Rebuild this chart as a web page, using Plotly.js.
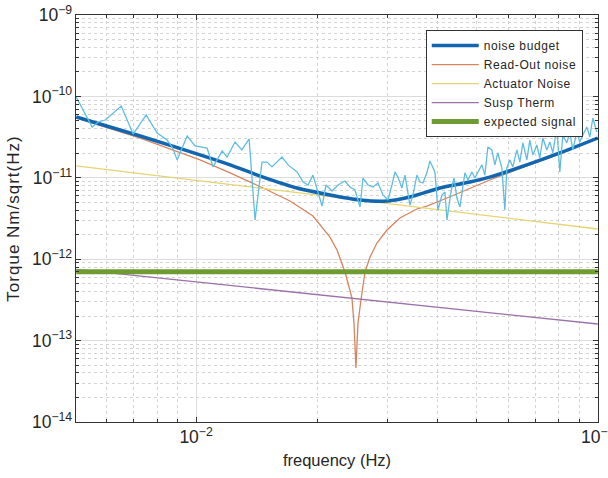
<!DOCTYPE html>
<html>
<head>
<meta charset="utf-8">
<script src="https://cdn.plot.ly/plotly-3.0.1.min.js"></script>
<style>
  html, body { margin: 0; padding: 0; background: #ffffff; }
  #chart { width: 608px; height: 478px; }
  .ytitle { letter-spacing: 1px; }
  .legendtext { letter-spacing: 0.6px; }
</style>
</head>
<body>
<div id="chart"></div>
<script>
// ---- data ----
const measFreq = [0.00503,0.00530,0.00551,0.00571,0.00594,0.00651,0.00697,0.00751,0.00800,0.00847,
  0.00872,0.00897,0.00950,0.00994,0.01035,0.01065,0.01102,0.01161,0.01194,0.0125,
  0.0130,0.01355,0.01402,0.01459,0.01502,0.01545,0.01636,0.01694,0.01784,0.01846,
  0.01899,0.01954,0.02058,0.02106,0.0218,0.02256,0.02348,0.02416,0.02486,0.02559,
  0.02603,0.02679,0.02756,0.02836,0.02919,0.03003,0.03073,0.03126,0.0318,0.03253,
  0.03311,0.03407,0.03466,0.03546,0.03607,0.0367,0.03754,0.0382,0.03931,0.0400,
  0.04093,0.04164,0.04212,0.04309,0.04384,0.0446,0.04537,0.04616,0.04669,0.0475,
  0.0486,0.04943,0.05029,0.05145,0.05234,0.05325,0.05448,0.05542,0.05638,0.0577,
  0.0587,0.05937,0.0604,0.06145,0.06287,0.06397,0.06508,0.06659,0.06772,0.0689,
  0.0705,0.07172,0.07297,0.07466,0.07596,0.07728,0.07907,0.08044,0.08183,0.08374,
  0.08518,0.08667,0.08866,0.0902,0.09178,0.09389,0.09553,0.09718,0.09943];
const measTorque = [9.83e-11,5.91e-11,4.21e-11,4.85e-11,5.13e-11,7.62e-11,3.45e-11,5.91e-11,3.55e-11,2.91e-11,
  2.39e-11,1.66e-11,3.26e-11,2.46e-11,2.39e-11,2.32e-11,1.36e-11,2.14e-11,1.80e-11,2.75e-11,
  2.20e-11,3.00e-11,3.03e-12,1.56e-11,1.56e-11,1.36e-11,1.80e-11,1.44e-11,1.18e-11,8.88e-12,
  8.16e-12,1.08e-11,4.50e-12,8.16e-12,6.88e-12,8.16e-12,9.13e-12,7.71e-12,7.08e-12,4.38e-12,
  9.94e-12,8.16e-12,7.71e-12,8.63e-12,6.15e-12,5.34e-12,8.16e-12,1.18e-11,1.02e-11,7.49e-12,
  1.08e-11,4.63e-12,6.15e-12,1.08e-11,8.88e-12,8.63e-12,1.15e-11,1.61e-11,1.18e-11,4.02e-12,
  6.15e-12,6.69e-12,3.03e-12,6.69e-12,9.94e-12,5.65e-12,4.38e-12,8.16e-12,1.15e-11,9.40e-12,
  1.18e-11,9.94e-12,1.18e-11,1.44e-11,1.08e-11,2.39e-11,2.20e-11,1.44e-11,2.02e-11,1.32e-11,
  4.02e-12,1.32e-11,1.66e-11,1.36e-11,2.20e-11,1.56e-11,2.68e-11,1.66e-11,2.91e-11,1.91e-11,
  2.53e-11,1.75e-11,3.08e-11,2.20e-11,2.75e-11,2.02e-11,4.09e-11,1.18e-11,3.36e-11,2.68e-11,
  3.65e-11,2.20e-11,3.65e-11,2.75e-11,3.36e-11,4.21e-11,3.17e-11,5.43e-11,3.65e-11];

const budgetFreq = [0.00503,0.00726,0.01023,0.01215,0.01468,0.01784,0.02154,0.02559,0.02986,0.03407,0.04046,0.04804,0.05386,0.06659,0.08044,0.1];
const budgetTorque = [5.58e-11,3.26e-11,1.91e-11,1.44e-11,1.02e-11,7.49e-12,6.15e-12,5.34e-12,5.19e-12,5.81e-12,7.49e-12,8.88e-12,1.02e-11,1.44e-11,2.02e-11,3.08e-11];

const readoutFreq = [0.00503,0.00726,0.01023,0.01215,0.01468,0.01713,0.01954,0.02154,0.02243,0.02348,0.02443,0.02472,0.0250,0.02529,0.02573,0.02633,0.02709,0.02819,0.02986,0.03217,0.03546,0.03754,0.04212,0.04804,0.05386,0.06659,0.08044,0.1];
const readoutTorque = [5.43e-11,3.08e-11,1.66e-11,1.15e-11,7.49e-12,5.19e-12,3.39e-12,1.87e-12,1.30e-12,6.96e-13,3.34e-13,1.64e-13,4.6e-14,1.64e-13,3.15e-13,6.96e-13,1.06e-12,1.58e-12,2.28e-12,3.21e-12,4.14e-12,4.50e-12,5.65e-12,7.49e-12,9.40e-12,1.40e-11,1.96e-11,3.08e-11];

const actuatorFreq = [0.00503, 0.1];
const actuatorTorque = [1.40e-11, 2.35e-12];

const suspFreq = [0.00503, 0.1];
const suspTorque = [7.5e-13, 1.6e-13];

const signalFreq = [0.00503, 0.1];
const signalTorque = [7.0e-13, 7.0e-13];

const seriesNames = ['noise budget', 'Read-Out noise', 'Actuator Noise', 'Susp Therm', 'expected signal'];
const xTitle = 'frequency (Hz)';
const yTitle = '\u00A0\u00A0\u00A0Torque Nm/sqrt(Hz)';

// ---- traces ----
const FONT = 'Liberation Sans, Arial, Helvetica, sans-serif';
const traces = [
  {x: readoutFreq, y: readoutTorque, name: seriesNames[1], mode: 'lines', legendrank: 2,
   line: {color: '#d8845e', width: 1.3}},
  {x: actuatorFreq, y: actuatorTorque, name: seriesNames[2], mode: 'lines', legendrank: 3,
   line: {color: '#e6d472', width: 1.3}},
  {x: suspFreq, y: suspTorque, name: seriesNames[3], mode: 'lines', legendrank: 4,
   line: {color: '#9b71a9', width: 1.3}},
  {x: signalFreq, y: signalTorque, name: seriesNames[4], mode: 'lines', legendrank: 5,
   line: {color: '#6f9b32', width: 5}},
  {x: budgetFreq, y: budgetTorque, name: seriesNames[0], mode: 'lines', legendrank: 1,
   line: {color: '#1266b0', width: 3.5, shape: 'spline', smoothing: 0.6}},
  {x: measFreq, y: measTorque, name: 'measured', mode: 'lines', showlegend: false,
   line: {color: '#5fbde2', width: 1.3}}
];

const axisCommon = {
  type: 'log',
  showline: true, linecolor: '#333333', linewidth: 1, mirror: 'allticks',
  ticks: 'inside', ticklen: 5, tickcolor: '#333333',
  showgrid: true, gridcolor: '#dcdcdc', gridwidth: 1,
  zeroline: false,
  exponentformat: 'power', showexponent: 'all',
  dtick: 1,
  ticklabeloverflow: 'allow',
  minor: {dtick: 'D1', ticks: 'inside', ticklen: 3, tickcolor: '#333333',
          showgrid: true, gridcolor: '#d4d4d4', griddash: 'dot', gridwidth: 1},
  tickfont: {family: FONT, size: 14, color: '#262626'}
};

const layout = {
  width: 608, height: 478,
  margin: {l: 76, r: 10, t: 15, b: 56},
  paper_bgcolor: '#ffffff', plot_bgcolor: '#ffffff',
  font: {family: FONT, color: '#262626'},
  xaxis: Object.assign({}, axisCommon, {
    range: [-2.299, -0.9995],
    title: {text: xTitle, font: {family: FONT, size: 16.5, color: '#262626'}, standoff: 8}
  }),
  yaxis: Object.assign({}, axisCommon, {
    range: [-14, -9],
    title: {text: yTitle, font: {family: FONT, size: 17, color: '#262626'}, standoff: 8}
  }),
  showlegend: true,
  legend: {
    x: 0.67, y: 0.963, xanchor: 'left', yanchor: 'top',
    bgcolor: '#ffffff', bordercolor: '#333333', borderwidth: 1,
    font: {family: FONT, size: 12, color: '#262626'},
    itemwidth: 47, tracegroupgap: 0
  }
};

Plotly.newPlot('chart', traces, layout, {displayModeBar: false, staticPlot: true});
</script>
</body>
</html>
